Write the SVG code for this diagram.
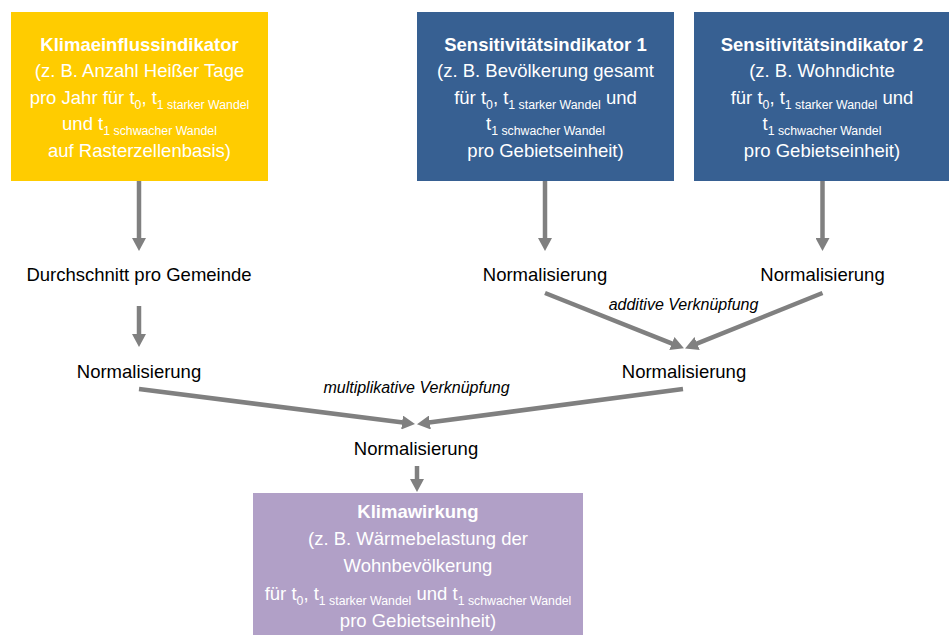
<svg xmlns="http://www.w3.org/2000/svg" width="949" height="635" viewBox="0 0 949 635">
<style>
text{font-family:"Liberation Sans",Arial,sans-serif;font-size:18.5px;text-anchor:middle}
.w{fill:#ffffff}
.k{fill:#000000}
.b{font-weight:bold}
.i{font-style:italic;font-size:16px}
.s{font-size:12.3px}
.c{stroke:#808080;stroke-width:4.5;fill:none;marker-end:url(#ah)}
</style>
<defs>
<marker id="ah" markerUnits="userSpaceOnUse" viewBox="0 0 13 14" markerWidth="13" markerHeight="14" refX="1" refY="7" orient="auto">
<path d="M0,0 L13,7 L0,14 z" fill="#808080"/>
</marker>
</defs>
<rect width="949" height="635" fill="#ffffff"/>
<g id="klimaeinfluss">
<rect x="11" y="12" width="257" height="169" fill="#FFCC00"/>
<text class="w b" x="139.5" y="51">Klimaeinflussindikator</text>
<text class="w" x="139.5" y="77">(z. B. Anzahl Heißer Tage</text>
<text class="w" x="139.5" y="104">pro Jahr für t<tspan class="s" dy="5">0</tspan><tspan dy="-5">, t</tspan><tspan class="s" dy="5">1 starker Wandel</tspan></text>
<text class="w" x="139.5" y="130">und t<tspan class="s" dy="5">1 schwacher Wandel</tspan></text>
<text class="w" x="139.5" y="157">auf Rasterzellenbasis)</text>
</g>
<g id="sensitivitaet1">
<rect x="417" y="12" width="257" height="169" fill="#376092"/>
<text class="w b" x="545.5" y="51">Sensitivitätsindikator 1</text>
<text class="w" x="545.5" y="77">(z. B. Bevölkerung gesamt</text>
<text class="w" x="545.5" y="104">für t<tspan class="s" dy="5">0</tspan><tspan dy="-5">, t</tspan><tspan class="s" dy="5">1 starker Wandel</tspan><tspan dy="-5"> und</tspan></text>
<text class="w" x="545.5" y="130">t<tspan class="s" dy="5">1 schwacher Wandel</tspan></text>
<text class="w" x="545.5" y="157">pro Gebietseinheit)</text>
</g>
<g id="sensitivitaet2">
<rect x="694" y="12" width="255" height="169" fill="#376092"/>
<text class="w b" x="822" y="51">Sensitivitätsindikator 2</text>
<text class="w" x="822" y="77">(z. B. Wohndichte</text>
<text class="w" x="822" y="104">für t<tspan class="s" dy="5">0</tspan><tspan dy="-5">, t</tspan><tspan class="s" dy="5">1 starker Wandel</tspan><tspan dy="-5"> und</tspan></text>
<text class="w" x="822" y="130">t<tspan class="s" dy="5">1 schwacher Wandel</tspan></text>
<text class="w" x="822" y="157">pro Gebietseinheit)</text>
</g>
<g id="durchschnitt"><text class="k" x="139" y="281">Durchschnitt pro Gemeinde</text></g>
<g id="norm-links"><text class="k" x="139" y="378">Normalisierung</text></g>
<g id="norm-s1"><text class="k" x="545" y="281">Normalisierung</text></g>
<g id="norm-s2"><text class="k" x="822.5" y="281">Normalisierung</text></g>
<g id="norm-sens"><text class="k" x="684" y="378">Normalisierung</text></g>
<g id="norm-gesamt"><text class="k" x="416" y="455">Normalisierung</text></g>
<g id="klimawirkung">
<rect x="253" y="493" width="330" height="142" fill="#B1A0C7"/>
<text class="w b" x="418" y="518">Klimawirkung</text>
<text class="w" x="418" y="545">(z. B. Wärmebelastung der</text>
<text class="w" x="418" y="572">Wohnbevölkerung</text>
<text class="w" x="418" y="600">für t<tspan class="s" dy="5">0</tspan><tspan dy="-5">, t</tspan><tspan class="s" dy="5">1 starker Wandel</tspan><tspan dy="-5"> und t</tspan><tspan class="s" dy="5">1 schwacher Wandel</tspan></text>
<text class="w" x="418" y="627">pro Gebietseinheit)</text>
</g>
<g id="connectors">
<line class="c" x1="139" y1="181" x2="139" y2="239"/>
<line class="c" x1="139" y1="306" x2="139" y2="335"/>
<line class="c" x1="545" y1="181" x2="545" y2="239"/>
<line class="c" x1="822.5" y1="181" x2="822.5" y2="239"/>
<line class="c" x1="545" y1="293" x2="672.8" y2="343.9"/>
<line class="c" x1="822.5" y1="293" x2="696.2" y2="343.9"/>
<line class="c" x1="139" y1="389" x2="403.1" y2="422.6"/>
<line class="c" x1="683" y1="389" x2="428.9" y2="422.6"/>
<line class="c" x1="417" y1="466" x2="417" y2="480"/>
<text class="k i" x="683.5" y="310">additive Verknüpfung</text>
<text class="k i" x="416.5" y="393">multiplikative Verknüpfung</text>
</g>
</svg>
